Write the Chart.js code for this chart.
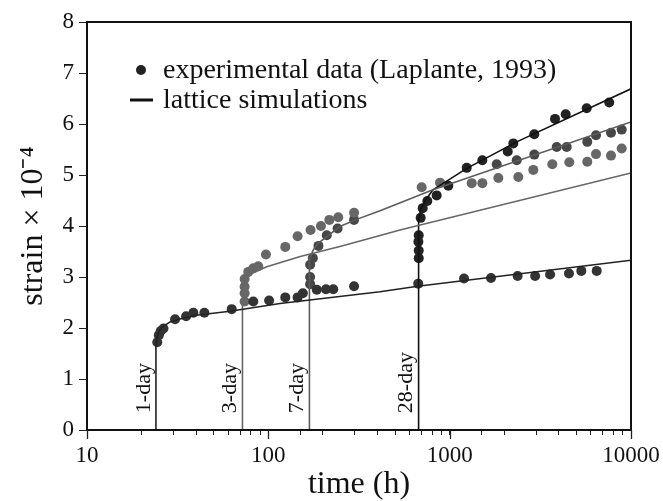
<!DOCTYPE html>
<html>
<head>
<meta charset="utf-8">
<script src="https://cdn.jsdelivr.net/npm/chart.js@4.4.1/dist/chart.umd.min.js"></script>
<style>
    html, body { margin: 0; padding: 0; background: #fff; }
    #grafico { display: block; }
</style>
</head>
<body>
<canvas id="grafico" width="663" height="501"></canvas>
<script>
// idade de carregamento (h) e rótulos
const loadTimes = [24, 72, 168, 672];
const loadLabels = ['1-day', '3-day', '7-day', '28-day'];

const xTickLabels = [10, 100, 1000, 10000];

/* ------------------ experimental data (Laplante, 1993) ------------------ */
const exp1Time = [24.4, 24.9, 25.5, 26.4, 30.6, 35.2, 38.6, 44.4, 62.8, 82.6, 101, 124, 145, 155, 185, 208, 228, 297, 671, 1200, 1690, 2370, 2960, 3580, 4550, 5320, 6470];
const exp1Strain = [1.72, 1.86, 1.94, 1.99, 2.17, 2.23, 2.30, 2.30, 2.37, 2.52, 2.54, 2.60, 2.60, 2.68, 2.75, 2.76, 2.76, 2.82, 2.87, 2.97, 2.98, 3.02, 3.02, 3.05, 3.07, 3.12, 3.12];

const exp3Time = [74, 74, 74, 74, 77.5, 82.6, 88, 97, 124, 145, 171, 195, 217, 243, 297, 701, 885, 1323, 1514, 1855, 2391, 2892, 3681, 4569, 5741, 6412, 7757, 8886];
const exp3Strain = [2.52, 2.68, 2.81, 2.96, 3.10, 3.17, 3.21, 3.44, 3.59, 3.80, 3.92, 4.00, 4.12, 4.17, 4.26, 4.76, 4.85, 4.84, 4.84, 4.94, 4.96, 5.10, 5.21, 5.25, 5.26, 5.41, 5.38, 5.52];

const exp7Time = [170, 170, 170, 176, 189, 210, 241, 297, 1817, 2343, 2929, 3894, 4420, 5741, 6412, 7757, 8886];
const exp7Strain = [2.86, 3.00, 3.24, 3.37, 3.61, 3.82, 3.95, 4.12, 5.21, 5.29, 5.40, 5.55, 5.55, 5.65, 5.78, 5.83, 5.89];

const exp28Time = [675, 675, 672, 675, 692, 710, 753, 848, 983, 1242, 1514, 2090, 2244, 2929, 3811, 4364, 5697, 7586];
const exp28Strain = [3.37, 3.52, 3.69, 3.82, 4.16, 4.35, 4.49, 4.60, 4.79, 5.14, 5.29, 5.46, 5.62, 5.80, 6.10, 6.19, 6.31, 6.42];

/* ------------------------- lattice simulations ------------------------- */
const sim1Time = [24, 24, 24.3, 24.8, 25.8, 28.7, 33, 40, 61.5, 116, 413, 666, 10000];
const sim1Strain = [0, 1.62, 1.80, 1.92, 2.01, 2.12, 2.18, 2.25, 2.33, 2.48, 2.71, 2.82, 3.33];

const sim3Time = [72, 72, 72.5, 73.5, 76, 82, 98, 150, 248, 364, 532, 10000];
const sim3Strain = [0, 2.55, 2.78, 2.90, 2.99, 3.08, 3.20, 3.40, 3.60, 3.76, 3.92, 5.04];

const sim7Time = [168, 168, 169, 172, 177, 188, 210, 248, 307, 413, 809, 10000];
const sim7Strain = [0, 3.15, 3.32, 3.43, 3.53, 3.66, 3.79, 3.99, 4.13, 4.30, 4.71, 6.04];

const sim28Time = [672, 672, 676, 685, 700, 740, 809, 983, 1242, 2343, 10000];
const sim28Strain = [0, 3.95, 4.12, 4.25, 4.36, 4.52, 4.71, 4.90, 5.13, 5.65, 6.69];

const fonte = 'Liberation Serif, Times New Roman, serif';

function pares(tempos, valores) {
    return tempos.map((t, i) => ({ x: t, y: valores[i] }));
}

function pontos(tempos, valores, cor) {
    return {
        data: pares(tempos, valores),
        showLine: false,
        pointRadius: 5,
        pointHoverRadius: 5,
        pointBackgroundColor: cor,
        pointBorderWidth: 0,
        order: 2
    };
}

function curva(tempos, valores, cor) {
    return {
        data: pares(tempos, valores),
        showLine: true,
        borderColor: cor,
        borderWidth: 1.6,
        pointRadius: 0,
        tension: 0,
        order: 1
    };
}

// moldura, legenda e rótulos das idades
const desenhos = {
    id: 'desenhos',
    afterDatasetsDraw(chart) {
        const { ctx, scales } = chart;
        const x = scales.x;
        const y = scales.y;
        ctx.save();

        // rótulos verticais das idades de carregamento
        ctx.fillStyle = '#111';
        ctx.font = '22px ' + fonte;
        ctx.textAlign = 'left';
        ctx.textBaseline = 'bottom';
        loadTimes.forEach((t, i) => {
            ctx.save();
            ctx.translate(x.getPixelForValue(t) - 1, y.getPixelForValue(0.33));
            ctx.rotate(-Math.PI / 2);
            ctx.fillText(loadLabels[i], 0, 0);
            ctx.restore();
        });
        ctx.restore();
    },
    afterDraw(chart) {
        const { ctx, chartArea, scales } = chart;
        const x = scales.x;
        ctx.save();

        // moldura
        ctx.strokeStyle = '#111';
        ctx.lineWidth = 2;
        ctx.strokeRect(chartArea.left, chartArea.top, chartArea.right - chartArea.left, chartArea.bottom - chartArea.top);

        // ticks maiores das décadas
        ctx.lineWidth = 1.3;
        ctx.strokeStyle = '#222';
        xTickLabels.forEach(v => {
            const px = Math.round(x.getPixelForValue(v)) + 0.5;
            ctx.beginPath();
            ctx.moveTo(px, chartArea.bottom);
            ctx.lineTo(px, chartArea.bottom + 9);
            ctx.stroke();
        });

        // legenda
        const lx = chartArea.left;
        const ly = chartArea.top;
        ctx.fillStyle = '#222';
        ctx.beginPath();
        ctx.arc(lx + 54, ly + 48, 5, 0, Math.PI * 2);
        ctx.fill();
        ctx.strokeStyle = '#111';
        ctx.lineWidth = 3;
        ctx.beginPath();
        ctx.moveTo(lx + 43, ly + 78);
        ctx.lineTo(lx + 66, ly + 78);
        ctx.stroke();

        ctx.fillStyle = '#111';
        ctx.font = '28px ' + fonte;
        ctx.textAlign = 'left';
        ctx.textBaseline = 'alphabetic';
        ctx.fillText('experimental data (Laplante, 1993)', lx + 76, ly + 56);
        ctx.fillText('lattice simulations', lx + 76, ly + 86);
        ctx.restore();
    }
};

const ctx = document.getElementById('grafico').getContext('2d');

const data = {
    datasets: [
        pontos(exp1Time, exp1Strain, '#333333'),
        pontos(exp3Time, exp3Strain, '#676767'),
        pontos(exp7Time, exp7Strain, '#474747'),
        pontos(exp28Time, exp28Strain, '#222222'),
        curva(sim1Time, sim1Strain, '#222222'),
        curva(sim3Time, sim3Strain, '#666666'),
        curva(sim7Time, sim7Strain, '#5c5c5c'),
        curva(sim28Time, sim28Strain, '#111111')
    ]
};

const config = {
    type: 'scatter',
    data: data,
    options: {
        responsive: false,
        animation: false,
        layout: {
            padding: { left: 0, right: 32, top: 22, bottom: 0 }
        },
        plugins: {
            legend: { display: false },
            tooltip: { enabled: false }
        },
        scales: {
            x: {
                type: 'logarithmic',
                min: 10,
                max: 10000,
                afterFit: (axis) => {
                    axis.height = 71;
                    axis.paddingLeft = 0;
                    axis.paddingRight = 0;
                },
                border: { display: false },
                grid: {
                    drawOnChartArea: false,
                    drawTicks: true,
                    tickLength: 5,
                    color: '#222'
                },
                ticks: {
                    autoSkip: false,
                    maxRotation: 0,
                    padding: 7,
                    color: '#111',
                    font: { family: fonte, size: 23 },
                    callback: function (value) {
                        return xTickLabels.includes(value) ? String(value) : '';
                    }
                },
                title: {
                    display: true,
                    text: 'time (h)',
                    color: '#111',
                    font: { family: fonte, size: 32, lineHeight: 1 },
                    padding: { top: 0, bottom: 0 }
                }
            },
            y: {
                min: 0,
                max: 8,
                afterFit: (axis) => {
                    axis.width = 87;
                    axis.paddingTop = 0;
                    axis.paddingBottom = 0;
                },
                border: { display: false },
                grid: {
                    drawOnChartArea: false,
                    drawTicks: true,
                    tickLength: 8,
                    color: '#222'
                },
                ticks: {
                    stepSize: 1,
                    padding: 5,
                    color: '#111',
                    font: { family: fonte, size: 23 }
                },
                title: {
                    display: true,
                    text: 'strain × 10⁻⁴',
                    color: '#111',
                    font: { family: fonte, size: 32, lineHeight: 1 },
                    padding: { top: 18, bottom: 18 }
                }
            }
        }
    },
    plugins: [desenhos]
};

new Chart(ctx, config);
</script>
</body>
</html>
